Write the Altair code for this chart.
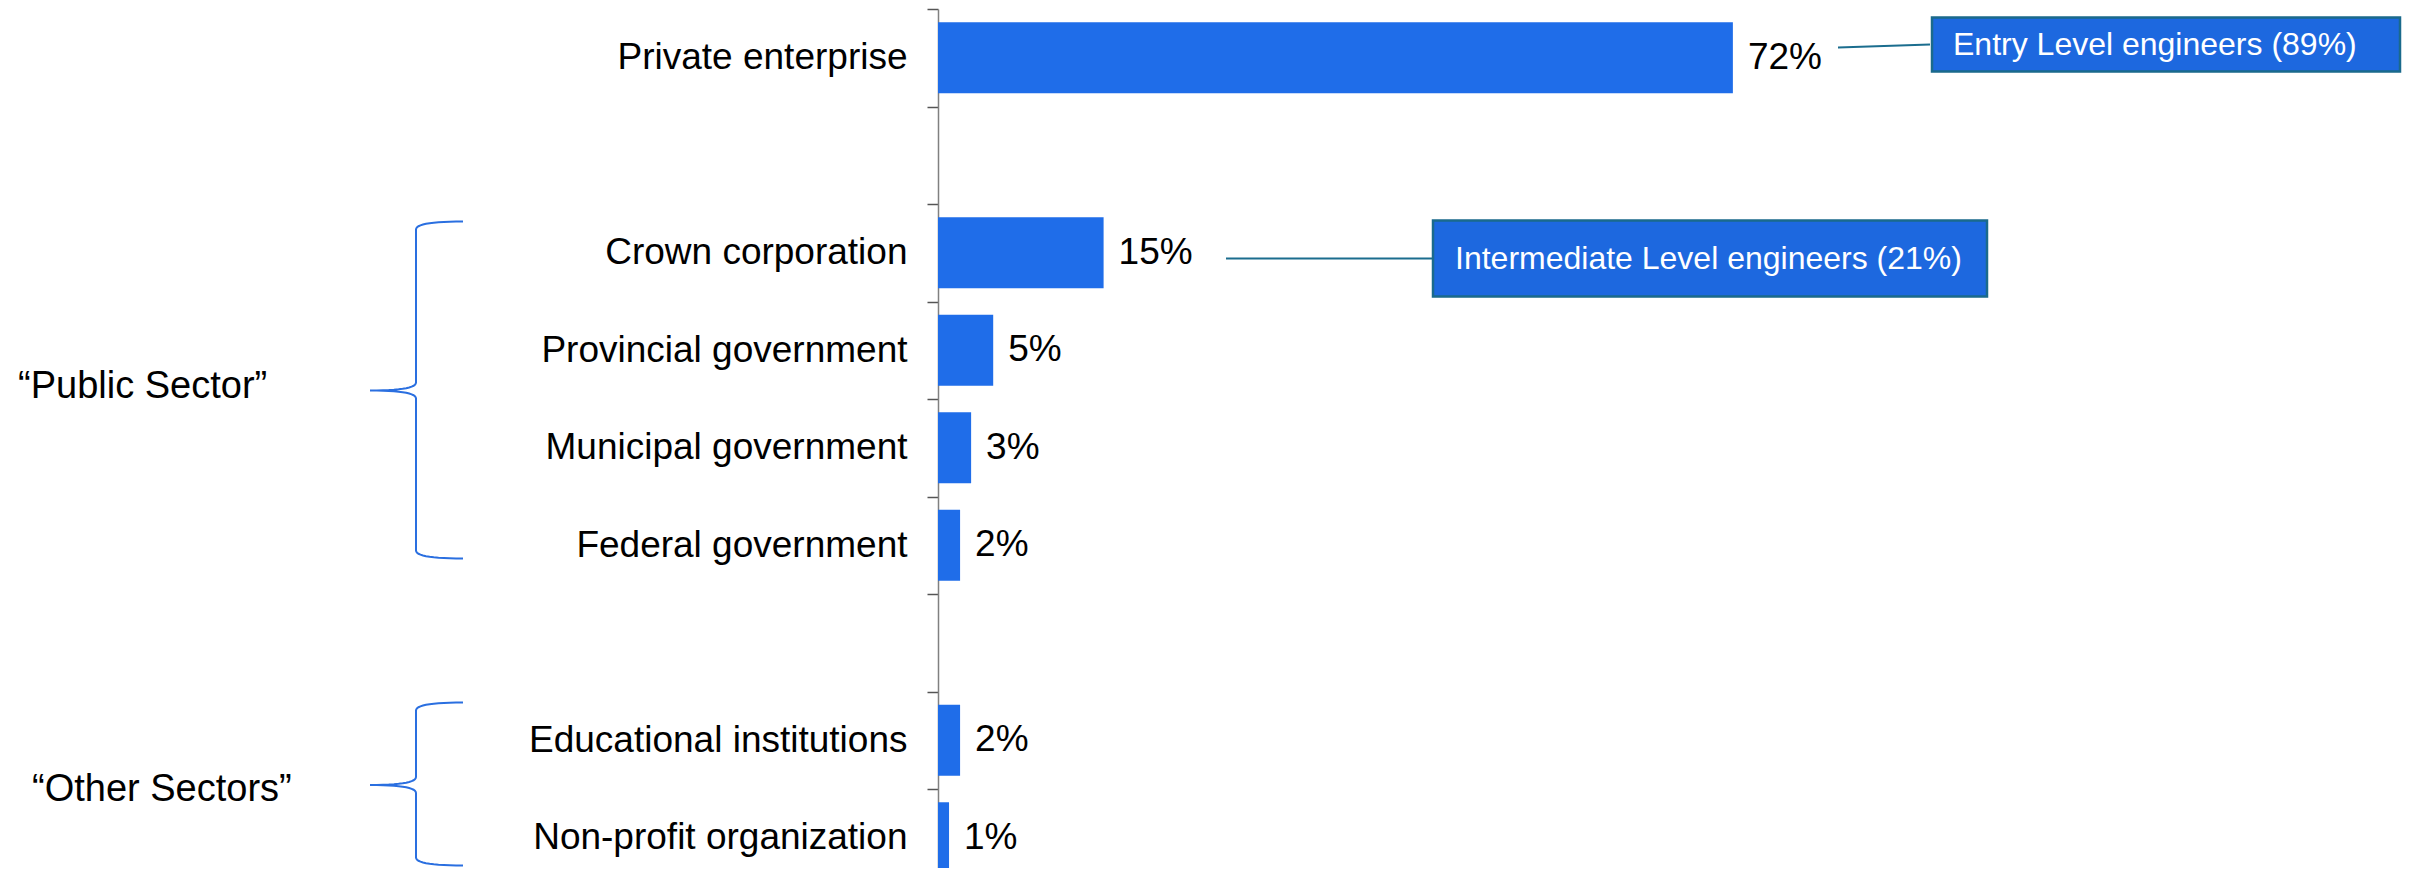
import altair as alt
import numpy as np
import pandas as pd

# ---------------- data ----------------
categories = ["Private enterprise", "Crown corporation", "Provincial government",
              "Municipal government", "Federal government",
              "Educational institutions", "Non-profit organization"]
values = [72, 15, 5, 3, 2, 2, 1]
value_labels = ["72%", "15%", "5%", "3%", "2%", "2%", "1%"]
# order of rows on the axis, including two empty spacer rows
axis_order = ["Private enterprise", "gap_1", "Crown corporation", "Provincial government",
              "Municipal government", "Federal government", "gap_2",
              "Educational institutions", "Non-profit organization"]
group_labels = ["\u201cPublic Sector\u201d", "\u201cOther Sectors\u201d"]
callout_texts = ["Entry Level engineers (89%)", "Intermediate Level engineers (21%)"]

# ---------------- layout (pixels, relative to plot origin) ----------------
W = 1104
H = 859
Y_RANGE = 877.5
FONT = "Liberation Sans"
BAR_COLOR = "#1F6DE9"
BOX_FILL = "#1D68DF"
BOX_STROKE = "#1A6A8C"
LINK_COLOR = "#1B6D8E"
BRACE_COLOR = "#2A6FE0"

group_pos = [(-920, 378), (-906, 781)]
brace_geom = [  # top, bottom, mid
    (212.5, 549.5, 381.5),
    (693.5, 856.5, 776.0),
]
BR_LINE, BR_END, BR_TIP, BR_R = -522, -475, -568, 8
box_geom = [  # x, x2, y, y2, text x
    (994, 1462, 8.5, 62.5, 1015),
    (495, 1049, 211.5, 287.5, 517),
]
link_geom = [  # x, y, x2, y2
    (900, 38.5, 992, 35.5),
    (288, 249.5, 495, 249.5),
]

# ---------------- tables ----------------
df = pd.DataFrame({"category": categories, "value": values, "label": value_labels})

x_scale = alt.Scale(domain=[0, 100], range=[0, W])
y_scale = alt.Scale(domain=axis_order, range=[0, Y_RANGE], paddingInner=0, paddingOuter=0)

bars = alt.Chart(df).mark_bar(color=BAR_COLOR, height=alt.RelativeBandSize(0.728)).encode(
    x=alt.X("value:Q", scale=x_scale, axis=None),
    y=alt.Y("category:N", scale=y_scale, sort=axis_order,
            axis=alt.Axis(title=None, labelFont=FONT, labelFontSize=37, labelColor="black",
                          labelPadding=20, labelLimit=1000, tickSize=11, tickWidth=1.5,
                          tickColor="#555555", domainColor="#808080", domainWidth=1.5,
                          tickBand="extent", grid=False,
                          labelExpr="indexof(datum.label, 'gap_') == 0 ? '' : datum.label")),
)

vals = alt.Chart(df).mark_text(align="left", baseline="middle", dx=15, font=FONT,
                               fontSize=37, color="black").encode(
    x=alt.X("value:Q", scale=x_scale, axis=None),
    y=alt.Y("category:N", scale=y_scale, sort=axis_order, axis=None),
    text="label:N",
)

groups_df = pd.DataFrame({"text": group_labels,
                          "px": [p[0] for p in group_pos],
                          "py": [p[1] for p in group_pos]})
groups = alt.Chart(groups_df).mark_text(align="left", baseline="middle", font=FONT,
                                        fontSize=38, color="black").encode(
    x=alt.X("px:Q", scale=None, axis=None),
    y=alt.Y("py:Q", scale=None, axis=None),
    text="text:N",
)


def quad(p0, c, p1, n=14):
    t = np.linspace(0, 1, n)[:, None]
    p0, c, p1 = map(np.array, (p0, c, p1))
    return ((1 - t) ** 2) * p0 + 2 * (1 - t) * t * c + (t ** 2) * p1


rows = []
for bi, (top, bot, mid) in enumerate(brace_geom):
    pts = np.vstack([
        quad((BR_END, top), (BR_LINE, top), (BR_LINE, top + BR_R)),
        quad((BR_LINE, mid - BR_R), (BR_LINE, mid), (BR_TIP, mid)),
        quad((BR_TIP, mid), (BR_LINE, mid), (BR_LINE, mid + BR_R)),
        quad((BR_LINE, bot - BR_R), (BR_LINE, bot), (BR_END, bot)),
    ])
    for i, (px, py) in enumerate(pts):
        rows.append({"brace": bi, "i": i, "px": float(px), "py": float(py)})
brace_df = pd.DataFrame(rows)
braces = alt.Chart(brace_df).mark_line(color=BRACE_COLOR, strokeWidth=2).encode(
    x=alt.X("px:Q", scale=None, axis=None),
    y=alt.Y("py:Q", scale=None, axis=None),
    detail="brace:N",
    order="i:Q",
)

link_df = pd.DataFrame({"lx": [g[0] for g in link_geom], "ly": [g[1] for g in link_geom],
                        "lx2": [g[2] for g in link_geom], "ly2": [g[3] for g in link_geom]})
links = alt.Chart(link_df).mark_rule(color=LINK_COLOR, strokeWidth=2).encode(
    x=alt.X("lx:Q", scale=None, axis=None),
    y=alt.Y("ly:Q", scale=None, axis=None),
    x2="lx2:Q",
    y2="ly2:Q",
)

box_df = pd.DataFrame({"text": callout_texts,
                       "bx": [g[0] for g in box_geom], "bx2": [g[1] for g in box_geom],
                       "by": [g[2] for g in box_geom], "by2": [g[3] for g in box_geom],
                       "tx": [g[4] for g in box_geom],
                       "ty": [(g[2] + g[3]) / 2 for g in box_geom]})
boxes = alt.Chart(box_df).mark_rect(fill=BOX_FILL, stroke=BOX_STROKE, strokeWidth=2.5).encode(
    x=alt.X("bx:Q", scale=None, axis=None),
    x2="bx2:Q",
    y=alt.Y("by:Q", scale=None, axis=None),
    y2="by2:Q",
)
box_text = alt.Chart(box_df).mark_text(align="left", baseline="middle", font=FONT,
                                       fontSize=32, color="white").encode(
    x=alt.X("tx:Q", scale=None, axis=None),
    y=alt.Y("ty:Q", scale=None, axis=None),
    text="text:N",
)

chart = alt.layer(bars, vals, groups, braces, links, boxes, box_text).resolve_scale(
    x="independent", y="independent"
).properties(
    width=W,
    height=H,
    autosize=alt.AutoSizeParams(type="none"),
    padding={"left": 930, "top": 1, "right": 360, "bottom": 0},
    background="white",
).configure_view(stroke=None)

chart.save("out.html", embed_options={"renderer": "svg", "actions": False})
